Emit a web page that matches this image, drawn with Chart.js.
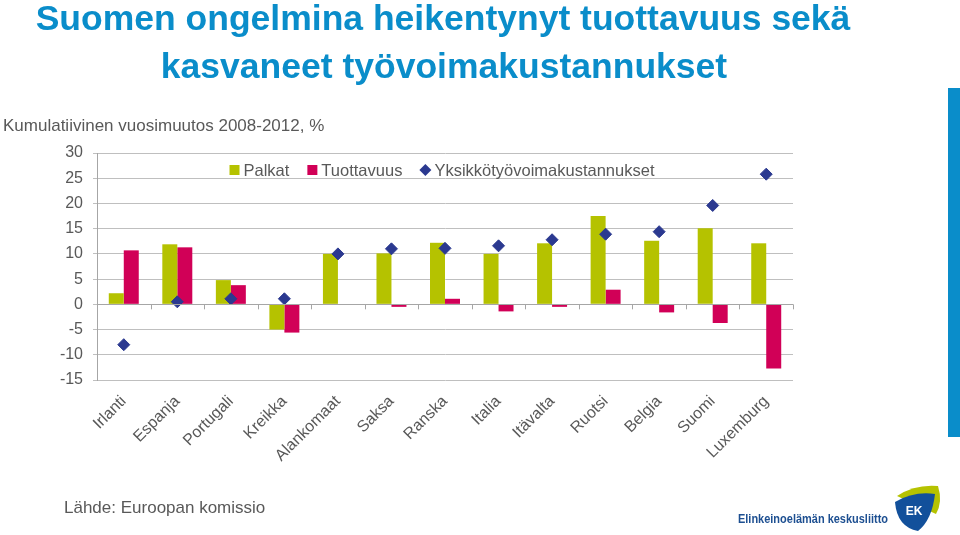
<!DOCTYPE html>
<html>
<head>
<meta charset="utf-8">
<script src="https://cdn.jsdelivr.net/npm/chart.js@4/dist/chart.umd.min.js"></script>
<style>
    html, body { margin: 0; padding: 0; background: #ffffff; }
    #wrap { position: relative; width: 960px; height: 535px; }
</style>
</head>
<body>
<div id="wrap"><canvas id="chart" width="960" height="535"></canvas></div>
<script>
// chart data
var maat = ['Irlanti', 'Espanja', 'Portugali', 'Kreikka', 'Alankomaat', 'Saksa', 'Ranska', 'Italia', 'Itävalta', 'Ruotsi', 'Belgia', 'Suomi', 'Luxemburg'];
var palkat = [2.2, 11.9, 4.8, -5.0, 10.0, 10.1, 12.2, 10.0, 12.1, 17.5, 12.6, 15.1, 12.1];
var tuottavuus = [10.7, 11.3, 3.8, -5.6, 0.1, -0.5, 1.1, -1.4, -0.5, 2.9, -1.6, -3.7, -12.7];
var yksikko = [-8.0, 0.5, 1.1, 1.1, 10.0, 11.0, 11.1, 11.6, 12.8, 13.9, 14.4, 19.6, 25.8];
var yMin = -15, yMax = 30, yStep = 5;

var grey = '#595959';
var blue = '#0a8dca';
var fontName = '"Liberation Sans", Arial, sans-serif';

// texts, blue side bar and logo around the chart
var decorPlugin = {
    id: 'decor',
    beforeDraw: function (chart) {
        var c = chart.ctx;
        c.save();
        c.fillStyle = '#ffffff';
        c.fillRect(0, 0, chart.width, chart.height);
        // title
        c.fillStyle = blue;
        c.font = 'bold 35.5px ' + fontName;
        c.textAlign = 'center';
        c.textBaseline = 'alphabetic';
        c.fillText('Suomen ongelmina heikentynyt tuottavuus sekä', 443, 30);
        c.fillText('kasvaneet työvoimakustannukset', 444, 78);
        // subtitle + source
        c.fillStyle = grey;
        c.font = '17px ' + fontName;
        c.textAlign = 'left';
        c.fillText('Kumulatiivinen vuosimuutos 2008-2012, %', 3, 131);
        c.fillText('Lähde: Euroopan komissio', 64, 513);
        // blue bar on the right
        c.fillStyle = blue;
        c.fillRect(948, 88, 12, 349);
        // logo text, squeezed a little
        c.save();
        c.fillStyle = '#1d4f91';
        c.font = 'bold 13px ' + fontName;
        var tw = c.measureText('Elinkeinoelämän keskusliitto').width;
        c.translate(738, 523);
        c.scale(150 / tw, 1);
        c.fillText('Elinkeinoelämän keskusliitto', 0, 0);
        c.restore();
        // logo shape
        c.fillStyle = '#b5c200';
        c.beginPath();
        c.moveTo(897, 496);
        c.quadraticCurveTo(915, 484, 938, 486);
        c.quadraticCurveTo(943, 502, 936, 514);
        c.closePath();
        c.fill();
        c.fillStyle = '#12509b';
        c.beginPath();
        c.moveTo(895, 502);
        c.quadraticCurveTo(914, 491, 935, 494);
        c.quadraticCurveTo(932, 520, 918, 531);
        c.quadraticCurveTo(897, 527, 895, 502);
        c.closePath();
        c.fill();
        c.fillStyle = '#ffffff';
        c.font = 'bold 12px ' + fontName;
        c.textAlign = 'center';
        c.fillText('EK', 914, 515);
        c.restore();
    },
    afterDatasetsDraw: function (chart) {
        var c = chart.ctx;
        var xs = chart.scales.x;
        var y0 = chart.scales.y.getPixelForValue(0);
        var half = (xs.getPixelForValue(1) - xs.getPixelForValue(0)) / 2;
        c.save();
        // zero line with small ticks between categories
        c.strokeStyle = '#a6a6a6';
        c.lineWidth = 1;
        c.beginPath();
        for (var i = 0; i <= maat.length; i++) {
            var x = Math.round(xs.getPixelForValue(0) - half + i * half * 2) + 0.5;
            c.moveTo(x, y0);
            c.lineTo(x, y0 + 5);
        }
        c.moveTo(chart.chartArea.left, Math.round(y0) + 0.5);
        c.lineTo(chart.chartArea.right, Math.round(y0) + 0.5);
        c.stroke();

        // legend inside the plot, centred
        var sets = chart.data.datasets;
        c.font = '16.5px ' + fontName;
        c.textBaseline = 'middle';
        var box = 10, gap = 4, space = 18;
        var total = 0;
        sets.forEach(function (d, k) {
            total += box + gap + c.measureText(d.label).width + (k ? space : 0);
        });
        var lx = (chart.chartArea.left + chart.chartArea.right) / 2 - total / 2 - 3;
        var ly = 170;
        sets.forEach(function (d) {
            c.fillStyle = d.backgroundColor;
            if (d.pointStyle == 'rectRot') {
                c.beginPath();
                c.moveTo(lx + box / 2, ly - 6);
                c.lineTo(lx + box / 2 + 6, ly);
                c.lineTo(lx + box / 2, ly + 6);
                c.lineTo(lx + box / 2 - 6, ly);
                c.closePath();
                c.fill();
            } else {
                c.fillRect(lx, ly - box / 2, box, box);
            }
            lx += box + gap;
            c.fillStyle = grey;
            c.textAlign = 'left';
            c.fillText(d.label, lx, ly + 1);
            lx += c.measureText(d.label).width + space;
        });
        c.restore();
    }
};

var ctx = document.getElementById('chart').getContext('2d');
var myChart = new Chart(ctx, {
    type: 'bar',
    data: {
        labels: maat,
        datasets: [{
            label: 'Palkat',
            data: palkat,
            backgroundColor: '#b5c200',
            pointStyle: 'rect',
            order: 1
        }, {
            label: 'Tuottavuus',
            data: tuottavuus,
            backgroundColor: '#d10057',
            pointStyle: 'rect',
            order: 1
        }, {
            type: 'line',
            label: 'Yksikkötyövoimakustannukset',
            data: yksikko,
            showLine: false,
            pointStyle: 'rectRot',
            pointRadius: 6,
            pointHoverRadius: 6,
            backgroundColor: '#2b3990',
            borderColor: '#2b3990',
            order: 0
        }]
    },
    options: {
        responsive: false,
        animation: false,
        layout: {
            padding: { top: 153, right: 167, bottom: 0, left: 0 }
        },
        datasets: {
            bar: { categoryPercentage: 0.56, barPercentage: 1.0 }
        },
        plugins: {
            legend: { display: false },
            tooltip: { enabled: false }
        },
        scales: {
            x: {
                grid: { display: false },
                border: { display: false },
                ticks: {
                    minRotation: 45,
                    maxRotation: 45,
                    autoSkip: false,
                    padding: 4,
                    color: grey,
                    font: { family: fontName, size: 16 }
                },
                afterFit: function (scale) { scale.height = 155; }
            },
            y: {
                min: yMin,
                max: yMax,
                ticks: {
                    stepSize: yStep,
                    padding: 10,
                    color: grey,
                    font: { family: fontName, size: 16 }
                },
                grid: { color: '#bfbfbf', tickLength: 4, tickColor: '#bfbfbf' },
                border: { color: '#a6a6a6' },
                afterFit: function (scale) { scale.width = 97; }
            }
        }
    },
    plugins: [decorPlugin]
});
</script>
</body>
</html>
